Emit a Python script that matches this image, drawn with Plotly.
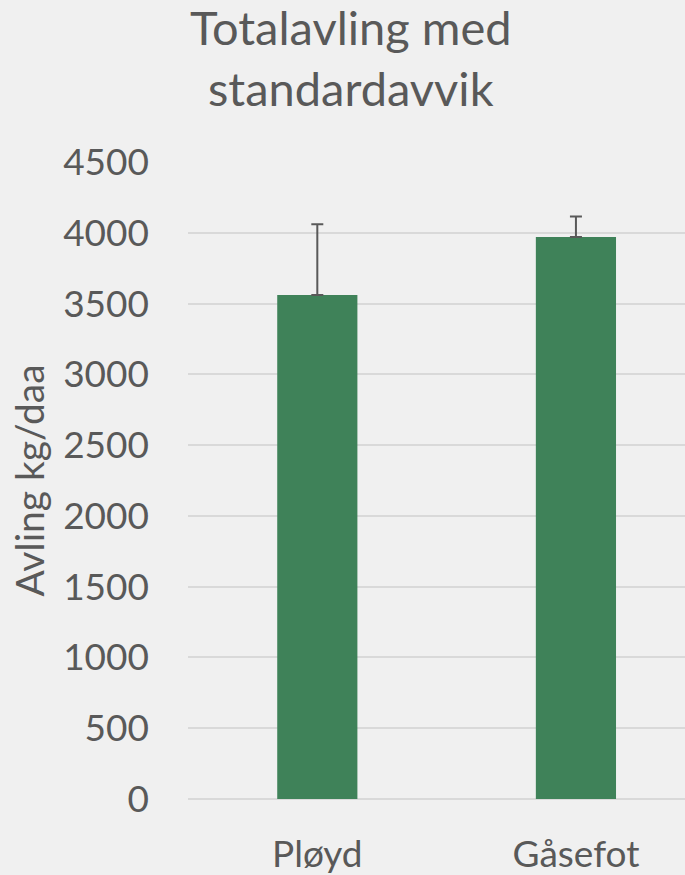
import plotly.graph_objects as go

categories = ["Pløyd", "Gåsefot"]
values = [3560, 3970]
std_dev = [500, 145]
y_ticks = [0, 500, 1000, 1500, 2000, 2500, 3000, 3500, 4000, 4500]

TEXT = "#595959"
FONT = "Lato"

fig = go.Figure(go.Bar(
    x=categories, y=values,
    marker=dict(color="#3F8259", line=dict(width=0)),
    width=0.31,
    error_y=dict(type="data", array=std_dev, visible=True, symmetric=False,
                 arrayminus=[0, 0], color="#595959", thickness=2, width=6),
))

fig.add_annotation(
    text="Totalavling med<br>standardavvik", xref="paper", yref="paper",
    x=0.328, y=1.069, xanchor="center", yanchor="bottom", showarrow=False,
    font=dict(size=47, color=TEXT, family=FONT),
)

fig.update_layout(
    width=685, height=875,
    paper_bgcolor="#F0F0F0", plot_bgcolor="#F0F0F0",
    margin=dict(l=188, r=0, t=162, b=76),
    font=dict(family=FONT, color=TEXT, size=37),
    showlegend=False,
    xaxis=dict(range=[-0.5, 1.4217], showgrid=False, showline=False, zeroline=False,
               ticks="", tickfont=dict(size=37, color=TEXT), ticklabelstandoff=30),
    yaxis=dict(range=[0, 4500], tickvals=y_ticks, showgrid=True, gridcolor="#D9D9D9",
               gridwidth=1.5, zeroline=True, zerolinecolor="#D9D9D9", zerolinewidth=1.5,
               showline=False, ticks="", tickfont=dict(size=37, color=TEXT),
               ticklabelstandoff=38,
               title=dict(text="Avling kg/daa", font=dict(size=39, color=TEXT), standoff=6)),
)

fig.write_html(
    "out.html",
    config={"displayModeBar": False},
    post_script="document.body.style.margin='0';document.body.style.background='#F0F0F0';document.body.style.overflow='hidden';",
)
